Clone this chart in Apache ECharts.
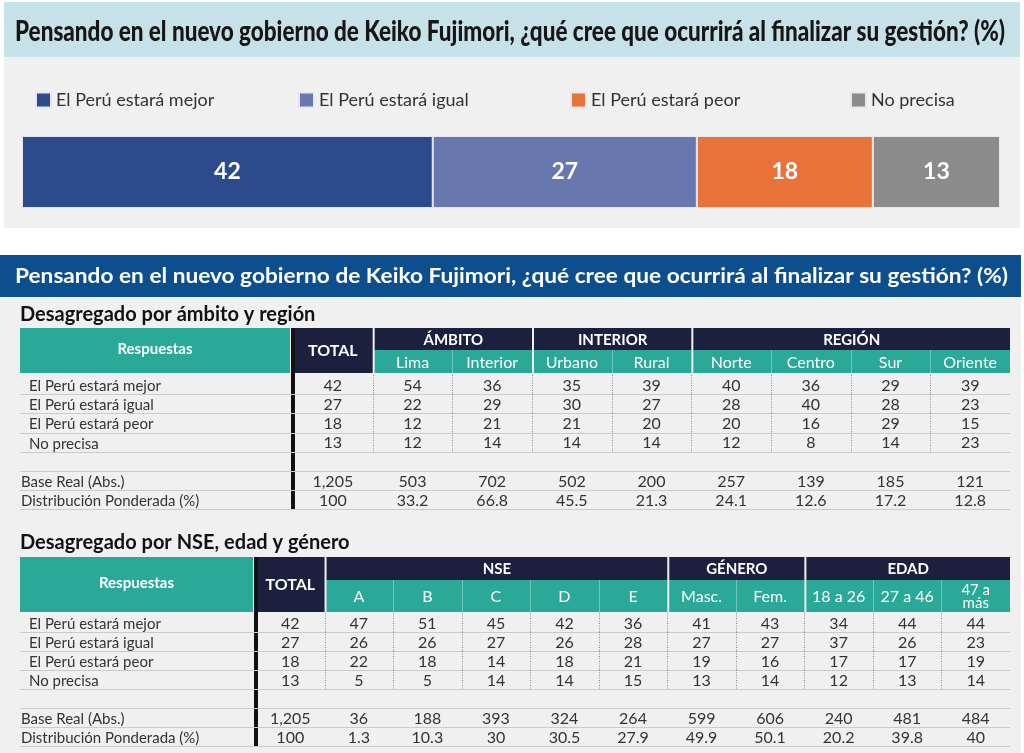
<!DOCTYPE html>
<html>
<head>
<meta charset="utf-8">
<script src="https://cdn.jsdelivr.net/npm/echarts@6/dist/echarts.min.js"></script>
<style>
    html, body { margin: 0; padding: 0; background: #fff; }
    #chart { width: 1024px; height: 753px; }
</style>
</head>
<body>
<div id="chart"></div>
<script>
// datos
var titulo = 'Pensando en el nuevo gobierno de Keiko Fujimori, ¿qué cree que ocurrirá al finalizar su gestión? (%)';
var respuestas = ['El Perú estará mejor', 'El Perú estará igual', 'El Perú estará peor', 'No precisa'];
var totalPct = [42, 27, 18, 13];
var filasBase = ['Base Real (Abs.)', 'Distribución Ponderada (%)'];

var t1Titulo = 'Desagregado por ámbito y región';
var t1Columnas = ['TOTAL', 'Lima', 'Interior', 'Urbano', 'Rural', 'Norte', 'Centro', 'Sur', 'Oriente'];
var t1Grupos = ['ÁMBITO', 'INTERIOR', 'REGIÓN'];
var t1Spans = [2, 2, 4];
var t1Mejor = [42, 54, 36, 35, 39, 40, 36, 29, 39];
var t1Igual = [27, 22, 29, 30, 27, 28, 40, 28, 23];
var t1Peor = [18, 12, 21, 21, 20, 20, 16, 29, 15];
var t1NoPrecisa = [13, 12, 14, 14, 14, 12, 8, 14, 23];
var t1BaseReal = ['1,205', '503', '702', '502', '200', '257', '139', '185', '121'];
var t1Distribucion = ['100', '33.2', '66.8', '45.5', '21.3', '24.1', '12.6', '17.2', '12.8'];

var t2Titulo = 'Desagregado por NSE, edad y género';
var t2Columnas = ['TOTAL', 'A', 'B', 'C', 'D', 'E', 'Masc.', 'Fem.', '18 a 26', '27 a 46', '47 a\nmás'];
var t2Grupos = ['NSE', 'GÉNERO', 'EDAD'];
var t2Spans = [5, 2, 3];
var t2Mejor = [42, 47, 51, 45, 42, 36, 41, 43, 34, 44, 44];
var t2Igual = [27, 26, 26, 27, 26, 28, 27, 27, 37, 26, 23];
var t2Peor = [18, 22, 18, 14, 18, 21, 19, 16, 17, 17, 19];
var t2NoPrecisa = [13, 5, 5, 14, 14, 15, 13, 14, 12, 13, 14];
var t2BaseReal = ['1,205', '36', '188', '393', '324', '264', '599', '606', '240', '481', '484'];
var t2Distribucion = ['100', '1.3', '10.3', '30', '30.5', '27.9', '49.9', '50.1', '20.2', '39.8', '40'];

// estilos
var FONT = 'Lato, "Open Sans", sans-serif';
var colores = ['#2c4a8c', '#6877ad', '#e8733a', '#8b8b8b'];
var TEAL = '#2aa898', NAVY = '#1d1f3e', TXT = '#333';
var leyendaX = [35, 298, 570, 850];

var chart = echarts.init(document.getElementById('chart'));

function ajuste(text, font, ancho) {
    var ctx = document.createElement('canvas').getContext('2d');
    ctx.font = font;
    return ancho / ctx.measureText(text).width;
}

function rect(x, y, w, h, fill, z) {
    return { type: 'rect', z: z || 1, shape: { x: x, y: y, width: w, height: h }, style: { fill: fill } };
}

function texto(t, x, y, o) {
    o = o || {};
    return {
        type: 'text', z: 5, x: x, y: y,
        style: {
            text: t, fill: o.color || '#fff', fontSize: o.size || 15, fontWeight: o.weight || 'normal',
            fontFamily: FONT, lineHeight: o.lh, align: o.align || 'center', textAlign: o.align || 'center',
            verticalAlign: 'middle', textVerticalAlign: 'middle'
        }
    };
}

var graficos = [];
// fondos
graficos.push(rect(4, 2, 1016, 55, '#c7e1e9', 0));
graficos.push(rect(4, 57, 1016, 171, '#f0f0f0', 0));
graficos.push(rect(0, 255, 1021, 42, '#0d4e8e', 0));
graficos.push(rect(0, 297, 1021, 456, '#f0f0f0', 0));

// titulos
var t1 = texto(titulo, 15, 32, { color: '#161616', size: 28, weight: 900, align: 'left' });
t1.scaleX = ajuste(titulo, '900 28px Lato', 990);
graficos.push(t1);
var t2 = texto(titulo, 15, 276, { color: '#fff', size: 21, weight: 'bold', align: 'left' });
t2.scaleX = ajuste(titulo, 'bold 21px Lato', 993);
graficos.push(t2);
graficos.push(texto(t1Titulo, 20, 315, { color: '#111', size: 20, weight: 'bold', align: 'left' }));
graficos.push(texto(t2Titulo, 20, 543, { color: '#111', size: 20, weight: 'bold', align: 'left' }));

var tablas = [
    {
        cols: t1Columnas, grupos: t1Grupos, spans: t1Spans,
        filas: [t1Mejor, t1Igual, t1Peor, t1NoPrecisa, [], t1BaseReal, t1Distribucion],
        top: 328, h1: 22, h2: 23, rowsTop: 375, rowH: 19.2, left: 293, right: 1010
    },
    {
        cols: t2Columnas, grupos: t2Grupos, spans: t2Spans,
        filas: [t2Mejor, t2Igual, t2Peor, t2NoPrecisa, [], t2BaseReal, t2Distribucion],
        top: 557, h1: 23, h2: 32, rowsTop: 613, rowH: 19, left: 256, right: 1010
    }
];
var categoriasFilas = respuestas.concat([' '], filasBase);

function encabezado(cfg) {
    var n = cfg.cols.length, colW = (cfg.right - cfg.left) / n;
    var h = cfg.h1 + cfg.h2;
    graficos.push(rect(20, cfg.top, cfg.left - 23, h, TEAL));
    graficos.push(texto('Respuestas', (20 + cfg.left - 3) / 2, cfg.top + h / 2 - 1, { size: 15, weight: 'bold' }));
    graficos.push(rect(cfg.left, cfg.top, colW, h, NAVY));
    graficos.push(texto('TOTAL', cfg.left + colW / 2, cfg.top + h / 2, { size: 16, weight: 'bold' }));
    // linea gruesa
    graficos.push(rect(cfg.left - 2, cfg.top, 4, cfg.rowsTop - cfg.top + cfg.rowH * categoriasFilas.length, '#111', 3));
    var start = 1;
    cfg.grupos.forEach(function (g, gi) {
        var span = cfg.spans[gi];
        var x0 = cfg.left + start * colW + 2, w = span * colW - 2;
        graficos.push(rect(x0, cfg.top, w, cfg.h1, NAVY));
        graficos.push(texto(g, x0 + w / 2, cfg.top + cfg.h1 / 2 + 1, { size: 15, weight: 'bold' }));
        graficos.push(rect(x0, cfg.top + cfg.h1, w, cfg.h2, TEAL));
        for (var k = 0; k < span; k++) {
            var lbl = cfg.cols[start + k];
            graficos.push(texto(lbl, cfg.left + (start + k + 0.5) * colW, cfg.top + cfg.h1 + cfg.h2 / 2 + 1,
                { size: lbl.indexOf('\n') >= 0 ? 15 : 16, lh: 13 }));
            if (k > 0) {
                var bx = Math.round(cfg.left + (start + k) * colW) + 0.5;
                graficos.push({ type: 'line', z: 2, shape: { x1: bx, y1: cfg.top + cfg.h1, x2: bx, y2: cfg.top + h },
                    style: { stroke: '#6cc6ba', lineWidth: 1 } });
            }
        }
        start += span;
    });
}
tablas.forEach(encabezado);

function celdas(idx, cfg) {
    var data = [];
    for (var r = 0; r < categoriasFilas.length; r++) {
        for (var c = 0; c < cfg.cols.length; c++) data.push([c, r]);
    }
    return {
        type: 'custom', xAxisIndex: idx, yAxisIndex: idx, data: data, silent: true, z: 3,
        renderItem: function (params, api) {
            var c = api.value(0), r = api.value(1);
            var p = api.coord([c, r]);
            var s = api.size([1, 1]);
            var hijos = [];
            if (c === 0) {
                var y = Math.round(p[1] + s[1] / 2) + 0.5;
                hijos.push({ type: 'line', shape: { x1: 20, y1: y, x2: cfg.right, y2: y },
                    style: { stroke: '#cbcbcb', lineWidth: 1 } });
            }
            if (c > 0 && r < 4) {
                var x = Math.round(p[0] - s[0] / 2) + 0.5;
                hijos.push({ type: 'line', shape: { x1: x, y1: p[1] - s[1] / 2, x2: x, y2: p[1] + s[1] / 2 },
                    style: { stroke: '#8a8a8a', lineWidth: 1, lineDash: [1, 1.5] } });
            }
            var v = cfg.filas[r][c];
            if (v !== undefined) {
                hijos.push({ type: 'text', x: p[0], y: p[1] + 1,
                    style: { text: String(v), fill: TXT, fontSize: 16, fontFamily: FONT,
                        align: 'center', textAlign: 'center', verticalAlign: 'middle', textVerticalAlign: 'middle' } });
            }
            return { type: 'group', children: hijos };
        }
    };
}

var grids = [{ left: 22, top: 136, width: 978, height: 72 }];
var xAxes = [{ type: 'value', gridIndex: 0, min: 0, max: 100, show: false }];
var yAxes = [{ type: 'category', gridIndex: 0, data: ['Total'], show: false }];
var series = respuestas.map(function (r, i) {
    return {
        name: r, type: 'bar', stack: 'total', xAxisIndex: 0, yAxisIndex: 0, barWidth: '100%',
        data: [totalPct[i]],
        itemStyle: { color: colores[i], borderColor: '#e4e7ee', borderWidth: 1 },
        label: { show: true, position: 'inside', color: '#fff', fontSize: 23, fontWeight: 'bold', fontFamily: FONT }
    };
});

tablas.forEach(function (cfg, i) {
    var idx = i + 1;
    grids.push({ left: cfg.left, top: cfg.rowsTop, width: cfg.right - cfg.left, height: cfg.rowH * categoriasFilas.length });
    xAxes.push({ type: 'category', gridIndex: idx, data: cfg.cols, show: false });
    yAxes.push({
        type: 'category', gridIndex: idx, data: categoriasFilas, inverse: true, z: 10,
        axisLine: { show: false }, axisTick: { show: false }, splitLine: { show: false },
        axisLabel: {
            show: true, interval: 0, align: 'left', margin: cfg.left - 21,
            fontSize: 15, color: TXT, fontFamily: FONT, padding: [3, 0, 0, 0],
            formatter: function (v, k) { return k < 4 ? '{r|' + v + '}' : v; },
            rich: { r: { padding: [0, 0, 0, 8], fontSize: 15, color: TXT, fontFamily: FONT } }
        }
    });
    series.push(celdas(idx, cfg));
});

var option = {
    animation: false,
    textStyle: { fontFamily: FONT },
    legend: respuestas.map(function (r, i) {
        return {
            data: [r], left: leyendaX[i], top: 91, padding: 0, icon: 'rect', itemWidth: 15, itemHeight: 15,
            selectedMode: false, textStyle: { fontSize: 18, color: '#333', fontFamily: FONT }
        };
    }),
    graphic: { elements: graficos },
    grid: grids,
    xAxis: xAxes,
    yAxis: yAxes,
    series: series
};

chart.setOption(option);
</script>
</body>
</html>
